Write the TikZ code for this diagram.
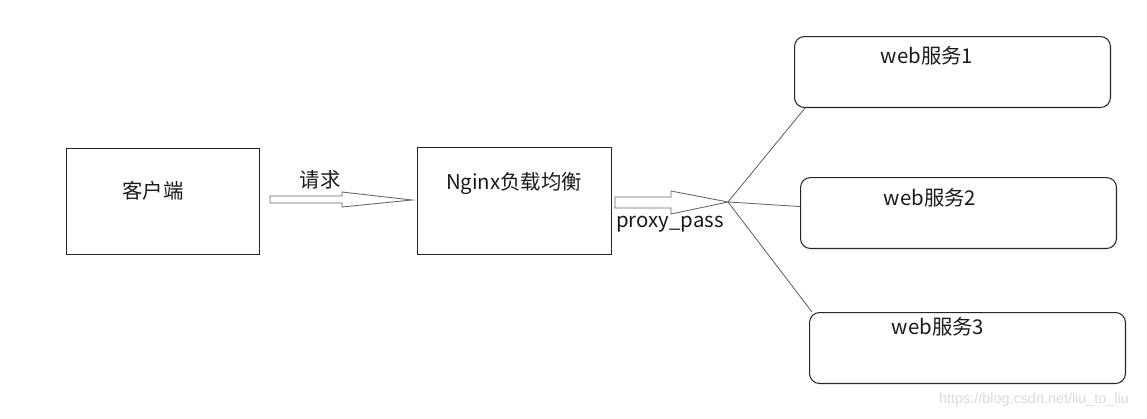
\documentclass[tikz,border=0pt]{standalone}
\usepackage{fontspec}
\setmainfont{Noto Sans CJK SC}
\newfontfamily\markfont{Liberation Sans}
\usetikzlibrary{positioning}
\begin{document}
\begin{tikzpicture}[x=0.02cm,y=-0.02cm,
	box/.style={draw=black!85,line width=0.6pt,anchor=north west,inner sep=0pt},
	webbox/.style={box,rounded corners=0.2cm,minimum width=6.32cm,minimum height=1.42cm},
	lbl/.style={font=\fontsize{11.6}{13}\selectfont,text=black!90,inner sep=0pt},
	barrow/.style={draw=black!60,line width=0.5pt,fill=white},
	link/.style={draw=black!65,line width=0.45pt}]
	\useasboundingbox (0,0) rectangle (1147,419);

	% Boxes
	\node[box,minimum width=3.86cm,minimum height=2.12cm] (client) at (66,148) {};
	\node[box,minimum width=3.88cm,minimum height=2.14cm] (nginx) at (417,147) {};
	\node[webbox] (web1) at (794,36) {};
	\node[webbox] (web2) at (800,177) {};
	\node[webbox] (web3) at (809,312) {};

	% Texts
	\node[lbl] (clientText) at (153,191) {客户端};
	\node[lbl] (nginxText) at (514,183) {Nginx负载均衡};
	\node[lbl] (web1Text) at (927,56) {web服务1};
	\node[lbl] (web2Text) at (930,198) {web服务2};
	\node[lbl] (web3Text) at (938,327) {web服务3};

	% Request arrow
	\draw[barrow] (270,196) -- (342,196) -- (342,192) -- (412,200)
		-- (342,207) -- (342,203) -- (270,203) -- cycle;
	\node[lbl] (reqText) at (320,180) {请求};

	% Proxy arrow
	\coordinate (hub) at (728,202);
	\draw[barrow] (615,197) -- (671,197) -- (671,191) -- (hub)
		-- (671,214) -- (671,208) -- (615,208) -- cycle;
	\node[lbl] (proxyText) at (670,224) {proxy\_pass};

	% Links to web services
	\draw[link] (hub) -- ([xshift=0.22cm]web1.south west);
	\draw[link] (hub) -- ([yshift=0.13cm]web2.west);
	\draw[link] (hub) -- ([xshift=0.06cm]web3.north west);

	% Watermark
	\node[font=\markfont\fontsize{8.2}{10}\selectfont,text=black!15,inner sep=0pt] (mark) at (1034,400) {https://blog.csdn.net/liu\_to\_liu};
\end{tikzpicture}
\end{document}
